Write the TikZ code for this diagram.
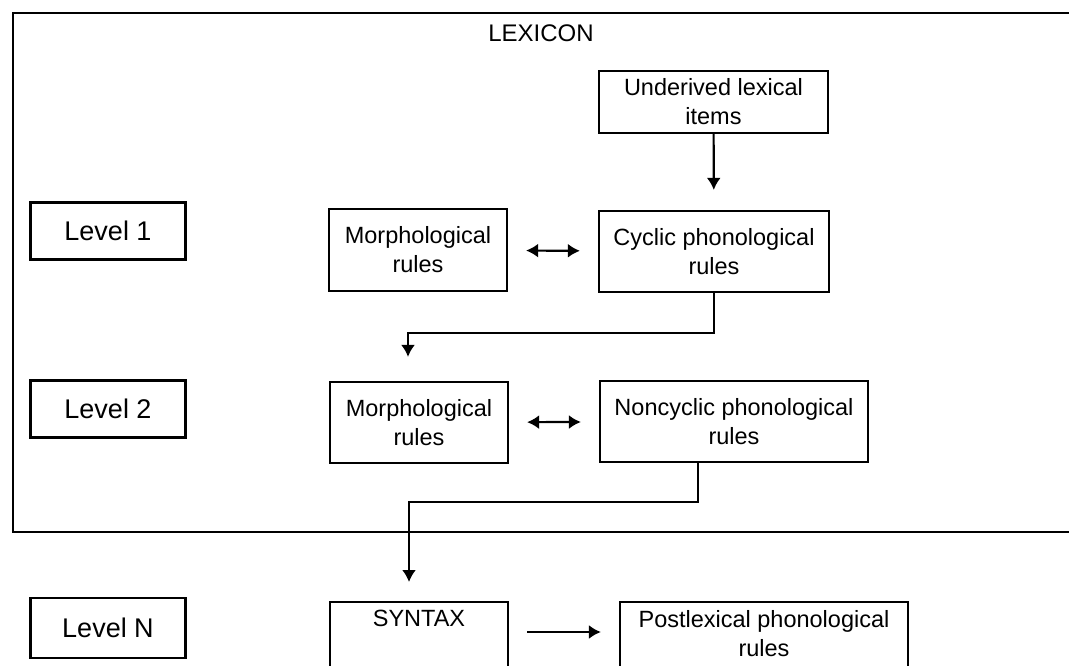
\documentclass[tikz,border=0pt]{standalone}
\usepackage{fontspec}
\setmainfont{Liberation Sans}
\usetikzlibrary{arrows.meta,calc}
\tikzset{
	box/.style={draw, line width=2.2pt, align=center, inner sep=4pt,
			font=\fontsize{23.5}{29}\selectfont},
	lvl/.style={box, minimum width=155pt, minimum height=57pt,
			font=\fontsize{27}{32}\selectfont},
	openbox/.style={box, anchor=north, inner ysep=8pt, text depth=46pt},
	link/.style={line width=2.2pt, -{Latex[length=12pt,width=14pt]}},
	twoway/.style={link, {Latex[length=12pt,width=14pt]}-{Latex[length=12pt,width=14pt]},
			shorten <=18pt, shorten >=18pt}
}

\begin{document}
\begin{tikzpicture}[x=1pt, y=-1pt]
		\useasboundingbox (0,0) rectangle (1069,666);
		% lexicon frame, open to the right
		\draw[line width=2.2pt] (1069,13) -- (13,13) -- (13,532) -- (1069,532);
		\node (lex) at (541,33) {\fontsize{24}{28}\selectfont LEXICON};
		
		\node[lvl] (lvl1) at (108,231) {Level 1};
		\node[lvl] (lvl2) at (108,409) {Level 2};
		\node[lvl, minimum height=60pt] (lvlN) at (108,628) {Level N};
		
		\node[box, minimum width=229pt, minimum height=62pt] (under) at (713.5,102) {Underived lexical\\items};
		\node[box, minimum width=178pt, minimum height=82pt] (morph1) at (418,250) {Morphological\\rules};
		\node[box, minimum width=230pt, minimum height=81pt] (cyc) at (714,251.5) {Cyclic phonological\\rules};
		\node[box, minimum width=178pt, minimum height=81pt] (morph2) at (419,422.5) {Morphological\\rules};
		\node[box, minimum width=268pt, minimum height=81pt] (noncyc) at (734,421.5) {Noncyclic phonological\\rules};
		\node[openbox, minimum width=178pt] (syntax) at (419,601) {SYNTAX};
		\node[openbox, minimum width=288pt] (post) at (764,601) {Postlexical phonological\\rules};
		
		\coordinate (turn1) at (408,333);
		\coordinate (drop2) at (698,502);
		\coordinate (turn2) at (409,502);
		\coordinate (rowN) at (0,632);
		
		\draw[link, shorten >=20pt] (under) -- (cyc);
		\draw[twoway] (morph1) -- (cyc);
		\draw[twoway] (morph2) -- (noncyc);
		\draw[link, shorten >=24pt] (cyc.south) |- (turn1) -- (turn1 |- morph2.north);
		\draw[link, shorten >=19pt] (drop2 |- noncyc.south) -- (drop2) -- (turn2) -- (turn2 |- syntax.north);
		\draw[link, shorten <=18pt, shorten >=18pt] (syntax.east |- rowN) -- (post.west |- rowN);
	\end{tikzpicture}
\end{document}
